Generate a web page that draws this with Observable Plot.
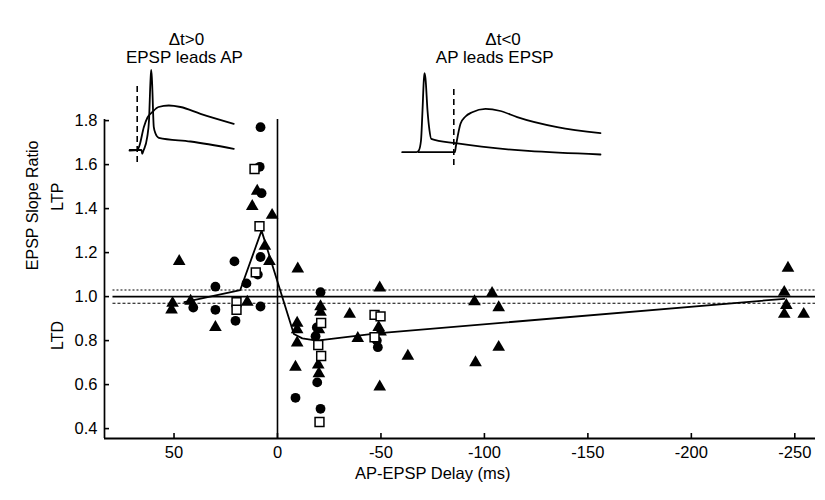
<!DOCTYPE html>
<html><head><meta charset="utf-8">
<script src="https://cdn.jsdelivr.net/npm/d3@7"></script>
<script src="https://cdn.jsdelivr.net/npm/@observablehq/plot@0.6"></script>
<style>
body{margin:0;background:#fff;font-family:"Liberation Sans",Arial,sans-serif;}
#wrap{position:relative;width:825px;height:500px;}
.inset{position:absolute;}
</style></head><body><div id="wrap"></div>
<script>
// ---- data: [AP-EPSP delay (ms), EPSP slope ratio]
const circles = [
  [8.2,1.77],[8.6,1.59],[7.7,1.47],[8.2,1.18],[20.8,1.16],[9.5,1.10],[15,1.06],[30,1.045],
  [40.7,0.95],[8.2,0.955],[30,0.94],[20.3,0.89],[-8.7,0.54],[-20.8,1.02],[-18.4,0.82],
  [-19,0.86],[-19.2,0.61],[-20.8,0.49],[-48.5,0.77],[-48,0.80]
];
const triangles = [
  [47.5,1.16],[12.2,1.41],[9.8,1.48],[2.6,1.37],[6.1,1.23],[3.9,1.16],[-9.8,1.126],
  [50.7,0.97],[51.2,0.94],[42,0.98],[14.6,0.975],[30,0.86],[-49.4,1.04],[-20.8,0.955],
  [-20.8,0.93],[-34.9,0.92],[-9.5,0.88],[-9.5,0.85],[-9.5,0.79],[-8.7,0.68],[-19.7,0.69],
  [-20,0.65],[-20,0.85],[-38.8,0.81],[-48.9,0.86],[-49.8,0.84],[-63,0.73],[-49.4,0.59],
  [-95.2,0.977],[-103.7,1.015],[-106.9,0.95],[-106.9,0.77],[-95.7,0.70],
  [-246.7,1.13],[-244.9,1.02],[-245.9,0.96],[-244.9,0.92],[-254.3,0.92]
];
const squares = [
  [11.1,1.58],[8.7,1.32],[10.5,1.11],[19.8,0.975],[19.8,0.94],[-21.1,0.88],[-19.7,0.78],
  [-21.1,0.73],[-20.3,0.43],[-46.9,0.917],[-49.8,0.91],[-46.9,0.815]
];
const meanCurve = [
  [45,0.975],[18,1.03],[7.7,1.30],[-7.9,0.83],[-12,0.81],[-19,0.80],[-48,0.833],[-245,0.99]
];
const control = 1.0, controlHi = 1.03, controlLo = 0.97;
const xTicks = [50, 0, -50, -100, -150, -200, -250];
const yTicks = [0.4, 0.6, 0.8, 1.0, 1.2, 1.4, 1.6, 1.8];

// inset traces: [time, voltage] in arbitrary trace units
const insetA_epsp = [[4,15],[11.7,15.5],[14,20],[18.3,38.3],[22,48],[26.7,53.3],[33,58.5],[43.3,60],[55,58.5],[75,51.7],[108.3,41.7]];
const insetA_ap = [[4.3,15.7],[16,15.5],[16.7,11.7],[18,15],[21.7,28.3],[23.5,45],[25,85],[25.7,95.7],[26.5,85],[28.3,38.3],[30,32],[33.3,27.7],[65,24],[108.3,16.7]];
const insetA_marker = 11.7;
const insetB_ap = [[3.7,13.3],[18,13.3],[20.3,15],[22.5,25],[24,55],[25.3,85],[26,92.3],[27,87],[29,55],[31,35],[32.7,26.7],[57,22.3],[202,11]];
const insetB_epsp = [[20.3,13.3],[56.3,13.3],[57.5,20],[62,41.7],[67,49],[73.7,53.3],[87,56.7],[102,54.5],[118.7,48.3],[158.7,38.3],[202,32.3]];
const insetB_marker = 55.3;

const xDomain = [83.6, -260];
const yDomain = [0.355, 2.346];
const yTop = 1.805;
const refStart = 79.5;
const font = "Liberation Sans, Arial, sans-serif";

const chart = Plot.plot({
  width: 825, height: 500,
  marginLeft: 104, marginRight: 10, marginTop: 0, marginBottom: 62,
  x: {domain: xDomain},
  y: {domain: yDomain},
  style: {fontFamily: font, fontSize: "16px", color: "#000", background: "#fff", overflow: "visible"},
  marks: [
    Plot.ruleY([controlHi], {x1: refStart, x2: xDomain[1], strokeWidth: 1.1, strokeDasharray: "2,2"}),
    Plot.ruleY([controlLo], {x1: refStart, x2: xDomain[1], strokeWidth: 1.1, strokeDasharray: "3,2"}),
    Plot.ruleY([control], {x1: refStart, x2: xDomain[1], strokeWidth: 1.6}),
    Plot.ruleX([0], {y1: yDomain[0], y2: yTop, strokeWidth: 1.6}),
    Plot.line(meanCurve, {x: d => d[0], y: d => d[1], strokeWidth: 1.8}),
    Plot.dot(circles, {x: d => d[0], y: d => d[1], r: 4.9, fill: "#000", symbol: "circle"}),
    Plot.dot(triangles, {x: d => d[0], y: d => d[1], r: 4.7, fill: "#000", symbol: "triangle"}),
    Plot.dot(squares, {x: d => d[0], y: d => d[1], r: 5, fill: "#fff", stroke: "#000", strokeWidth: 1.5, symbol: "square"}),
    // axis lines
    Plot.ruleY([yDomain[0]], {x1: xDomain[0], x2: xDomain[1], strokeWidth: 2}),
    Plot.ruleX([xDomain[0]], {y1: yDomain[0], y2: yTop, strokeWidth: 1.7}),
    // inward ticks
    Plot.axisX({ticks: xTicks, tickSize: -5, tickFormat: () => "", label: null, strokeWidth: 1.6}),
    Plot.axisY({ticks: yTicks, tickSize: -5, tickFormat: () => "", label: null, strokeWidth: 1.6}),
    // tick labels
    Plot.axisX({ticks: xTicks, tickSize: 0, tickPadding: 8, tickFormat: d => String(d), label: null, fontSize: 16.5}),
    Plot.axisY({ticks: yTicks, tickSize: 0, tickPadding: 7, tickFormat: d => d.toFixed(1), label: null, fontSize: 16.5}),
    // labels
    Plot.text(["AP-EPSP Delay (ms)"], {x: -75, frameAnchor: "bottom", dy: 40, text: d => d, fontSize: 16.5}),
    Plot.text(["EPSP Slope Ratio"], {y: 1.12, frameAnchor: "left", dx: -72, rotate: -90, text: d => d, fontSize: 16}),
    Plot.text(["LTP"], {y: 1.39, frameAnchor: "left", dx: -47, rotate: -90, text: d => d, fontSize: 16}),
    Plot.text(["LTD"], {y: 0.757, frameAnchor: "left", dx: -47, rotate: -90, text: d => d, fontSize: 16}),
    Plot.text(["Δt>0"], {x: 44, frameAnchor: "top", dy: 32, text: d => d, fontSize: 17}),
    Plot.text(["EPSP leads AP"], {x: 45, frameAnchor: "top", dy: 50, text: d => d, fontSize: 17}),
    Plot.text(["Δt<0"], {x: -109, frameAnchor: "top", dy: 32, text: d => d, fontSize: 17}),
    Plot.text(["AP leads EPSP"], {x: -105, frameAnchor: "top", dy: 50, text: d => d, fontSize: 17})
  ]
});
const wrap = document.getElementById("wrap");
wrap.appendChild(chart);

function inset(left, top, w, h, traces, marker) {
  const p = Plot.plot({
    width: w, height: h, margin: 0,
    x: {domain: [0, w], axis: null},
    y: {domain: [0, h], axis: null},
    style: {background: "transparent", overflow: "visible"},
    marks: [
      ...traces.map(t => Plot.line(t, {x: d => d[0], y: d => d[1], strokeWidth: 1.8, curve: "monotone-x"})),
      Plot.ruleX([marker.t], {y1: marker.y1, y2: marker.y2, strokeWidth: 1.6, strokeDasharray: "6,4"})
    ]
  });
  p.classList.add("inset");
  p.style.left = left + "px";
  p.style.top = top + "px";
  wrap.appendChild(p);
}
inset(125, 60, 115, 105, [insetA_epsp, insetA_ap], {t: insetA_marker, y1: 3, y2: 82});
inset(398, 60, 207, 105, [insetB_ap, insetB_epsp], {t: insetB_marker, y1: 0, y2: 80});
</script></body></html>
